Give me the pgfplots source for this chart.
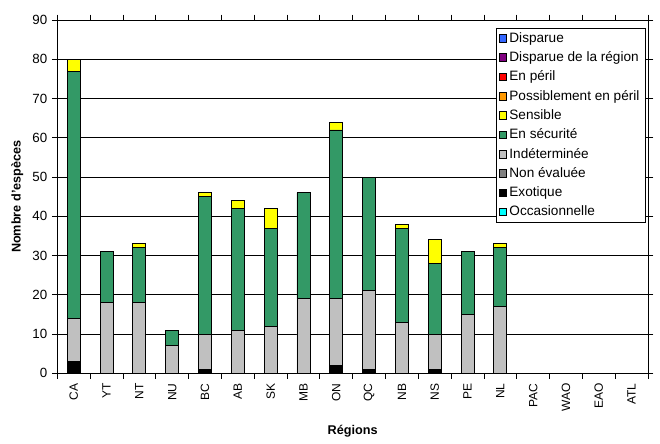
\documentclass[border=0pt]{standalone}
\usepackage{fontspec}
\setmainfont{Liberation Sans}
\usepackage{pgfplots}
\usepackage{pgfplotstable}
\pgfplotsset{compat=1.18}
\usetikzlibrary{calc}

\definecolor{cDisp}{HTML}{3366FF}
\definecolor{cDispReg}{HTML}{800080}
\definecolor{cPeril}{HTML}{FF0000}
\definecolor{cPoss}{HTML}{FF9900}
\definecolor{cSens}{HTML}{FFFF00}
\definecolor{cSecu}{HTML}{339966}
\definecolor{cIndet}{HTML}{C0C0C0}
\definecolor{cNonEv}{HTML}{808080}
\definecolor{cExo}{HTML}{000000}
\definecolor{cOcc}{HTML}{00FFFF}

% x  region  exotique  indeterminee  securite  sensible
\pgfplotstableread{
x reg exo indet secu sens
0 CA 3 11 63 3
1 YT 0 18 13 0
2 NT 0 18 14 1
3 NU 0 7 4 0
4 BC 1 9 35 1
5 AB 0 11 31 2
6 SK 0 12 25 5
7 MB 0 19 27 0
8 ON 2 17 43 2
9 QC 1 20 29 0
10 NB 0 13 24 1
11 NS 1 9 18 6
12 PE 0 15 16 0
13 NL 0 17 15 1
}\data

\begin{document}
\begin{tikzpicture}
\begin{axis}[
  scale only axis,
  width=443pt, height=265pt,
  ybar stacked, bar width=9.75pt,
  xmin=-0.5, xmax=17.5, ymin=0, ymax=90,
  ytick={0,10,...,90},
  xtick={0,...,17},
  xticklabels={CA,YT,NT,NU,BC,AB,SK,MB,ON,QC,NB,NS,PE,NL,PAC,WAO,EAO,ATL},
  minor xtick={-0.5,0.5,...,17.5},
  major x tick style={draw=none},
  tick align=outside,
  major tick length=4pt, minor tick length=4pt,
  tick style={black, line width=0.6pt},
  x tick label style={rotate=90, anchor=east, font=\fontsize{9}{10}\selectfont},
  y tick label style={font=\fontsize{10}{11}\selectfont},
  /pgf/number format/assume math mode=true,
  ymajorgrids, grid style={black, line width=0.6pt},
  axis line style={black, line width=0.6pt},
  xlabel={\textbf{Régions}},
  ylabel={\textbf{Nombre d'espèces}},
  label style={font=\fontsize{9.5}{11}\selectfont},
  xlabel style={yshift=-3pt},
  every axis plot/.append style={draw=black, line width=0.6pt},
  legend style={at={(0.995,0.977)}, anchor=north east, draw=black, fill=white,
    font=\fontsize{10.2}{11}\selectfont, cells={anchor=west}, row sep=1.5pt,
    inner xsep=2pt, inner ysep=1pt},
  legend image code/.code={\draw[#1, line width=0.5pt] (0cm,-0.1cm) rectangle (0.2cm,0.1cm);},
]
  \addplot[fill=cExo, forget plot] table[x=x, y=exo]{\data};
  \addplot[fill=cIndet, forget plot] table[x=x, y=indet]{\data};
  \addplot[fill=cSecu, forget plot] table[x=x, y=secu]{\data};
  \addplot[fill=cSens, forget plot] table[x=x, y=sens]{\data};

  \addlegendimage{fill=cDisp, draw=black}\addlegendentry{Disparue}
  \addlegendimage{fill=cDispReg, draw=black}\addlegendentry{Disparue de la région}
  \addlegendimage{fill=cPeril, draw=black}\addlegendentry{En péril}
  \addlegendimage{fill=cPoss, draw=black}\addlegendentry{Possiblement en péril}
  \addlegendimage{fill=cSens, draw=black}\addlegendentry{Sensible}
  \addlegendimage{fill=cSecu, draw=black}\addlegendentry{En sécurité}
  \addlegendimage{fill=cIndet, draw=black}\addlegendentry{Indéterminée}
  \addlegendimage{fill=cNonEv, draw=black}\addlegendentry{Non évaluée}
  \addlegendimage{fill=cExo, draw=black}\addlegendentry{Exotique}
  \addlegendimage{fill=cOcc, draw=black}\addlegendentry{Occasionnelle}
\end{axis}
\pgfresetboundingbox
\path ($(current axis.south west)+(-43pt,-53pt)$) rectangle ($(current axis.north east)+(9pt,15pt)$);
\end{tikzpicture}
\end{document}
